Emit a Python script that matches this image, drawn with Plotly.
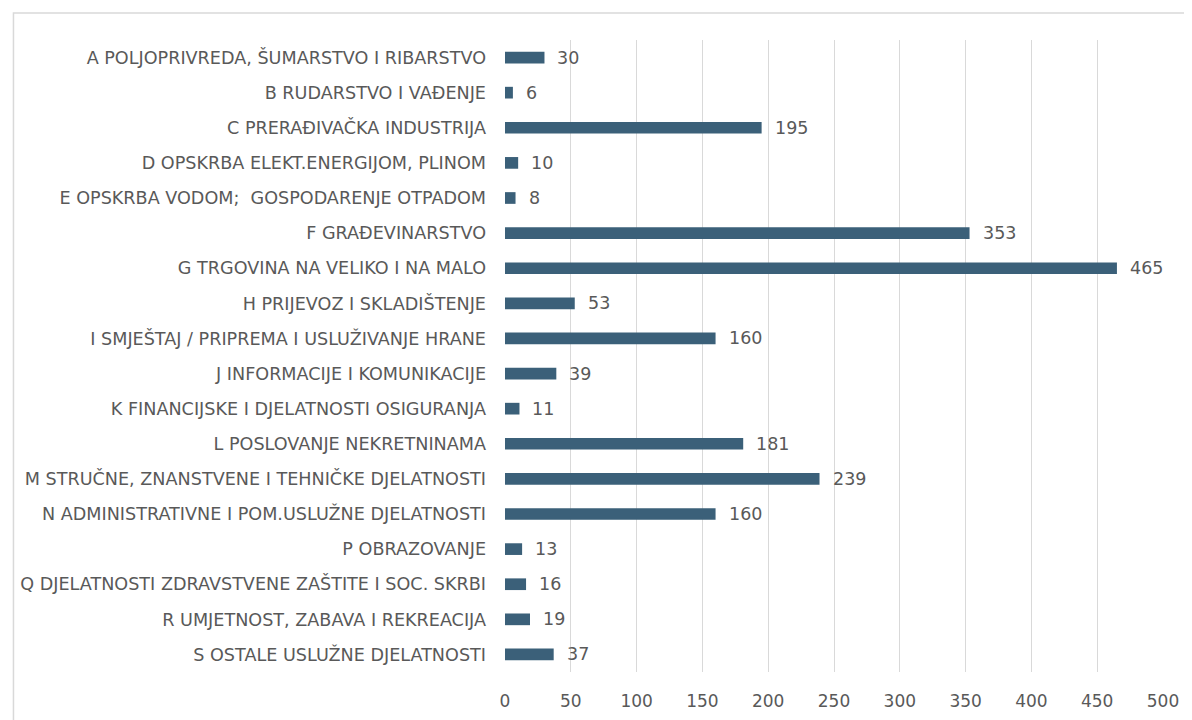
import plotly.graph_objects as go

categories = [
    "A POLJOPRIVREDA, ŠUMARSTVO I RIBARSTVO",
    "B RUDARSTVO I VAĐENJE",
    "C PRERAĐIVAČKA INDUSTRIJA",
    "D OPSKRBA ELEKT.ENERGIJOM, PLINOM",
    "E OPSKRBA VODOM;  GOSPODARENJE OTPADOM",
    "F GRAĐEVINARSTVO",
    "G TRGOVINA NA VELIKO I NA MALO",
    "H PRIJEVOZ I SKLADIŠTENJE",
    "I SMJEŠTAJ / PRIPREMA I USLUŽIVANJE HRANE",
    "J INFORMACIJE I KOMUNIKACIJE",
    "K FINANCIJSKE I DJELATNOSTI OSIGURANJA",
    "L POSLOVANJE NEKRETNINAMA",
    "M STRUČNE, ZNANSTVENE I TEHNIČKE DJELATNOSTI",
    "N ADMINISTRATIVNE I POM.USLUŽNE DJELATNOSTI",
    "P OBRAZOVANJE",
    "Q DJELATNOSTI ZDRAVSTVENE ZAŠTITE I SOC. SKRBI",
    "R UMJETNOST, ZABAVA I REKREACIJA",
    "S OSTALE USLUŽNE DJELATNOSTI",
]
values = [30, 6, 195, 10, 8, 353, 465, 53, 160, 39, 11, 181, 239, 160, 13, 16, 19, 37]
x_ticks = [0, 50, 100, 150, 200, 250, 300, 350, 400, 450, 500]

FONT = "DejaVu Sans"
TEXT_COLOR = "#595959"
BAR_COLOR = "#3B6079"

fig = go.Figure()
fig.add_trace(go.Bar(
    x=values,
    y=categories,
    orientation="h",
    marker=dict(color=BAR_COLOR, line=dict(width=0)),
    hoverinfo="x+y",
))

for c, v in zip(categories, values):
    fig.add_annotation(
        x=v, y=c, text=str(v), showarrow=False,
        xanchor="left", xshift=11,
        font=dict(family=FONT, size=17.5, color=TEXT_COLOR),
    )

W, H = 1192, 720
L, R, T, B = 487, 37, 32, 56
pw, ph = W - L - R, H - T - B

# light frame around the whole chart (open to the right and bottom)
fig.add_shape(
    type="rect", xref="paper", yref="paper",
    x0=(-12 - L) / pw, x1=(1230 - L) / pw,
    y0=-(780 - (H - B)) / ph, y1=1 + (T - 5) / ph,
    line=dict(color="#D9D9D9", width=1.5), fillcolor="rgba(0,0,0,0)",
    layer="below",
)

fig.update_layout(
    width=W, height=H,
    margin=dict(l=L, r=R, t=T, b=B, pad=0),
    paper_bgcolor="white", plot_bgcolor="white",
    showlegend=False,
    bargap=0.667,
    font=dict(family=FONT, color=TEXT_COLOR),
    xaxis=dict(
        range=[0, 500], tickvals=x_ticks, ticktext=[str(t) for t in x_ticks],
        showgrid=True, gridcolor="#D9D9D9", gridwidth=1,
        zeroline=False, showline=False, ticks="",
        tickfont=dict(family=FONT, size=17, color=TEXT_COLOR),
        ticklabelstandoff=17,
        fixedrange=True,
    ),
    yaxis=dict(
        categoryorder="array", categoryarray=categories,
        autorange="reversed",
        showgrid=False, zeroline=False, showline=False, ticks="",
        tickfont=dict(family=FONT, size=17.6, color=TEXT_COLOR),
        ticklabelstandoff=18,
        fixedrange=True,
    ),
)

fig.write_html("out.html")
